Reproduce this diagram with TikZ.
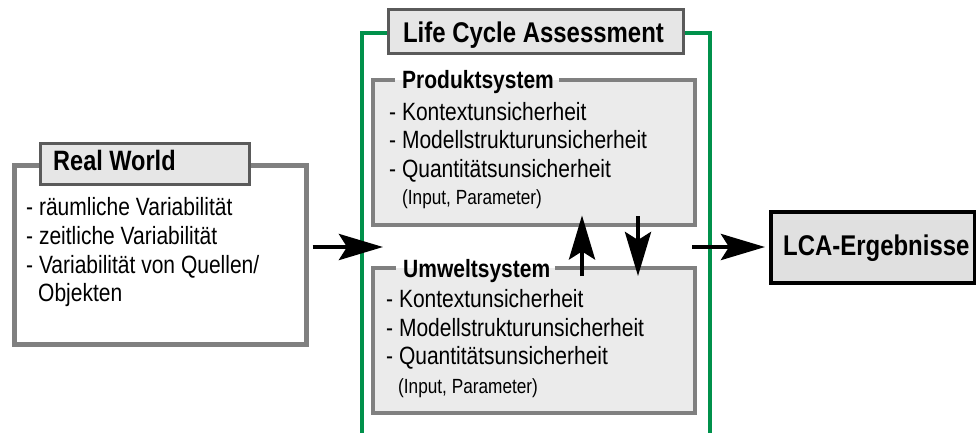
\documentclass[tikz,border=0pt]{standalone}
\usepackage{fontspec}
\setmainfont[FakeStretch=0.84]{Liberation Sans}
\usetikzlibrary{arrows.meta}
\definecolor{lcagreen}{RGB}{0,145,75}
\definecolor{boxgray}{RGB}{128,128,128}
\definecolor{titlegray}{RGB}{90,90,90}
\definecolor{titlefill}{RGB}{230,230,230}
\definecolor{sysfill}{RGB}{235,235,235}
\definecolor{resfill}{RGB}{224,224,224}
\tikzset{
  frame/.style={draw=boxgray, line width=4.5pt, fill=white, inner sep=0, anchor=north west},
  titlebox/.style={draw=titlegray, line width=3pt, fill=titlefill, inner sep=0, anchor=north west},
  sysbox/.style={fill=sysfill, inner sep=0, anchor=north west},
  sysborder/.style={draw=boxgray, line width=4pt, line join=miter},
  itemtxt/.style={font=\fontsize{25}{28}\selectfont, anchor=base west, inner sep=0},
  smalltxt/.style={font=\fontsize{20.5}{22}\selectfont, anchor=base west, inner sep=0},
  headtxt/.style={font=\fontsize{28}{30}\selectfont\bfseries, anchor=base west, inner sep=0},
  subhead/.style={font=\fontsize{25}{28}\selectfont\bfseries, anchor=base west, inner sep=0},
  arr/.style={line width=4.5pt, -{Stealth[length=44pt, width=26pt, inset=8pt]}}
}
\begin{document}
\begin{tikzpicture}[x=1pt, y=-1pt]
\useasboundingbox (0,0) rectangle (976,432);

% Real World
\node[frame, minimum width=292pt, minimum height=179pt] (rw) at (12,163) {};
\node[titlebox, minimum width=209pt, minimum height=41pt] (rwt) at (39,142) {};
\node[headtxt] (rwtt) at (53,170) {Real World};
\node[itemtxt] (rw1) at (26,215) {- räumliche Variabilität};
\node[itemtxt] (rw2) at (26,244) {- zeitliche Variabilität};
\node[itemtxt] (rw3) at (26,273) {- Variabilität von Quellen/};
\node[itemtxt] (rw4) at (38,301) {Objekten};

% LCA green frame
\node[draw=lcagreen, line width=4pt, fill=white, inner sep=0, anchor=north west,
      minimum width=348pt, minimum height=402pt] (gr) at (360,31) {};
\node[titlebox, minimum width=295pt, minimum height=44pt] (grt) at (387,8) {};
\node[font=\fontsize{28.5}{30}\selectfont\bfseries, inner sep=0, anchor=base] (grtt) at (533.5,42) {Life Cycle Assessment};

% Produktsystem
\node[sysbox, minimum width=322pt, minimum height=145pt] (ps) at (373,80) {};
\node[subhead] (pst) at (402,88) {Produktsystem};
\draw[sysborder] ([xshift=-7pt]pst.west |- ps.north) -- (ps.north west) -- (ps.south west)
  -- (ps.south east) -- (ps.north east) -- ([xshift=5pt]pst.east |- ps.north);
\node[itemtxt] (ps1) at (389,120) {- Kontextunsicherheit};
\node[itemtxt] (ps2) at (389,148) {- Modellstrukturunsicherheit};
\node[itemtxt] (ps3) at (389,177) {- Quantitätsunsicherheit};
\node[smalltxt] (ps4) at (402,204) {(Input, Parameter)};

% Umweltsystem
\node[sysbox, minimum width=322pt, minimum height=145pt] (us) at (373,268) {};
\node[subhead] (ust) at (403,277) {Umweltsystem};
\draw[sysborder] ([xshift=-7pt]ust.west |- us.north) -- (us.north west) -- (us.south west)
  -- (us.south east) -- (us.north east) -- ([xshift=5pt]ust.east |- us.north);
\node[itemtxt] (us1) at (386,307) {- Kontextunsicherheit};
\node[itemtxt] (us2) at (386,336) {- Modellstrukturunsicherheit};
\node[itemtxt] (us3) at (386,364) {- Quantitätsunsicherheit};
\node[smalltxt] (us4) at (398,393) {(Input, Parameter)};

% LCA-Ergebnisse
\node[draw=black, line width=4pt, fill=resfill, inner sep=0, anchor=north west,
      minimum width=204pt, minimum height=71pt] (res) at (769,210) {};
\node[headtxt, font=\fontsize{28.5}{30}\selectfont\bfseries] (rest) at (783,255) {LCA-Ergebnisse};

% arrows
\coordinate (midy) at (0,247);
\draw[arr] ([xshift=4pt]rw.east |- midy) -- ([xshift=10pt]ps.west |- midy);
\draw[arr] ([xshift=-3pt]ps.east |- midy) -- ([xshift=-4pt]res.west |- midy);
\draw[arr] ([shift={(209,8)}]us.north west) -- ([shift={(209,-10)}]ps.south west);
\draw[arr] ([shift={(265,-9)}]ps.south west) -- ([shift={(265,8)}]us.north west);
\end{tikzpicture}
\end{document}
